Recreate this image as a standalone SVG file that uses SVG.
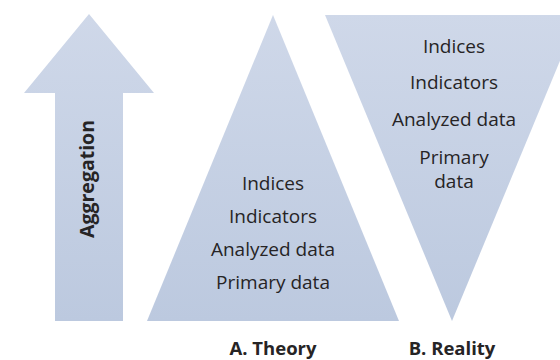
<svg xmlns="http://www.w3.org/2000/svg" width="560" height="360" viewBox="0 0 560 360">
<style>
.t{font-family:"Open Sans","Noto Sans",sans-serif;font-size:19px;fill:#262425;text-anchor:middle}
.b{font-family:"Open Sans","Noto Sans",sans-serif;font-size:18.5px;font-weight:bold;fill:#262425;text-anchor:middle}
.s{fill:url(#g)}
</style>
<defs>
<linearGradient id="g" gradientUnits="userSpaceOnUse" x1="0" y1="14" x2="0" y2="321">
<stop offset="0" stop-color="#cfd8e9"/>
<stop offset="1" stop-color="#bcc9df"/>
</linearGradient>
</defs>
<rect width="560" height="360" fill="#ffffff"/>
<g id="aggregation">
<polygon class="s" points="89,14 154,93 123,93 123,321 55,321 55,93 24,93"/>
<text class="b" style="font-size:19.5px" transform="translate(94,179) rotate(-90)">Aggregation</text>
</g>
<g id="theory">
<polygon class="s" points="273,15 399,321 147,321"/>
<text class="t" x="273" y="189.5">Indices</text>
<text class="t" x="273" y="223">Indicators</text>
<text class="t" x="273" y="255.5">Analyzed data</text>
<text class="t" x="273" y="288.5">Primary data</text>
<text class="b" x="273" y="355">A. Theory</text>
</g>
<g id="reality">
<polygon class="s" points="325,15 579,15 452,321"/>
<text class="t" x="454" y="52.7">Indices</text>
<text class="t" x="454" y="89.3">Indicators</text>
<text class="t" x="454" y="126">Analyzed data</text>
<text class="t" x="454" y="164">Primary</text>
<text class="t" x="454" y="187.5">data</text>
<text class="b" x="452" y="355">B. Reality</text>
</g>
<g id="connectors"></g>
</svg>
